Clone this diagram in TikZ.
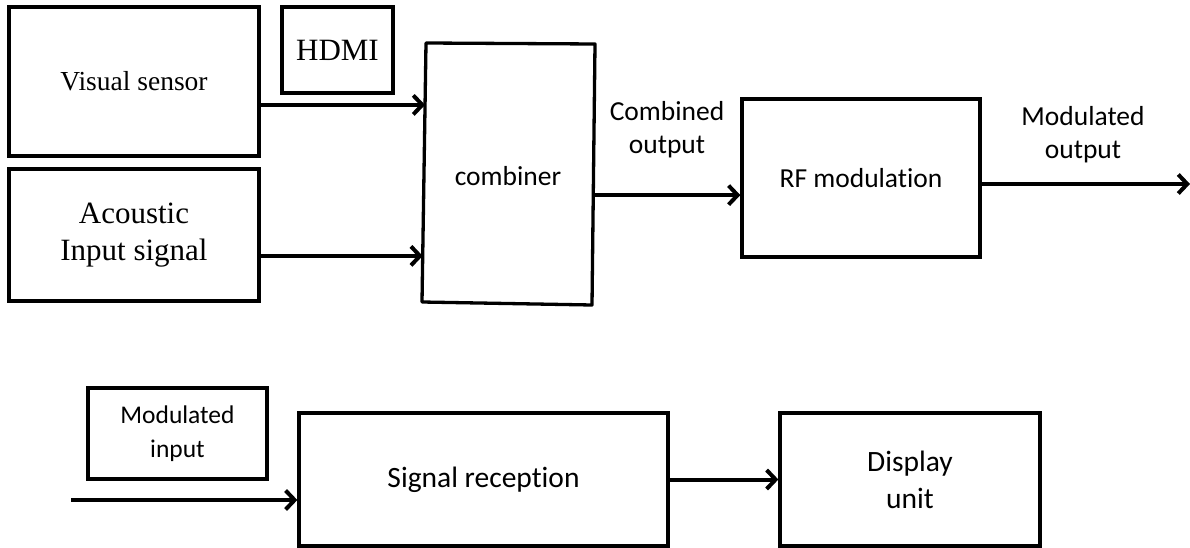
\documentclass[tikz,border=0pt]{standalone}
\usepackage{fontspec}
\setmainfont{Liberation Serif}
\newfontfamily\calfont[Ligatures=NoCommon]{Carlito}
\usetikzlibrary{arrows.meta,calc}
\begin{document}
\begin{tikzpicture}[x=1pt,y=-1pt,
  blk/.style={draw,line width=3.3pt,rectangle,inner sep=0pt,align=center},
  arr/.style={line width=4pt,-{Straight Barb[length=9pt,width=19pt,line width=4pt]}},
  tms/.style={font=\fontsize{27.5}{33}\selectfont},
  tmsb/.style={font=\fontsize{31}{37}\selectfont},
  cal/.style={font=\calfont\fontsize{27.5}{33}\selectfont},
  calb/.style={font=\calfont\fontsize{29.5}{37}\selectfont},
  lbl/.style={align=center,inner sep=0pt}]
\useasboundingbox (0,0) rectangle (1190,548);
% top row
\node[blk,tms,minimum width=250pt,minimum height=149pt] (vs) at (134,81.5) {Visual sensor};
\node[blk,tmsb,minimum width=250pt,minimum height=132pt] (ac) at (134,235) {Acoustic\\Input signal};
\node[blk,tmsb,minimum width=111pt,minimum height=86pt] (hd) at (337.5,50) {HDMI};
% combiner (slightly skewed quadrilateral)
\coordinate (c1) at (426,43);
\coordinate (c2) at (595,44);
\coordinate (c3) at (592,305);
\coordinate (c4) at (422,302);
\draw[line width=3.3pt,line join=round] (c1) -- (c2) -- (c3) -- (c4) -- cycle;
\node[lbl,cal] (cb) at (508,176) {combiner};
\coordinate (cbA) at ($(c1)!0.239!(c4)$);
\coordinate (cbB) at ($(c1)!0.822!(c4)$);
\coordinate (cbO) at ($(c2)!0.579!(c3)$);
\node[blk,cal,minimum width=238pt,minimum height=158pt] (rf) at (861,178) {RF modulation};
\node[lbl,cal] (colbl) at (667,130) {Combined\\output};
\node[lbl,cal] (molbl) at (1083,135) {Modulated\\output};
\coordinate (mout) at (1190,184);
\draw[arr] (vs.east |- cbA) -- (cbA);
\draw[arr] (ac.east |- cbB) -- (cbB);
\draw[arr] (cbO) -- (rf.west |- cbO);
\draw[arr] (rf.east |- mout) -- (mout);
% bottom row
\node[blk,font=\calfont\fontsize{25.5}{34}\selectfont,minimum width=179pt,minimum height=91pt] (mi) at (177.5,433.5) {Modulated\\input};
\node[blk,calb,minimum width=369pt,minimum height=133pt] (sr) at (483.5,479.5) {Signal reception};
\node[blk,calb,minimum width=260pt,minimum height=133pt] (du) at (910,479.5) {Display\\unit};
\coordinate (min) at (71,500);
\draw[arr] (min) -- (min -| sr.west);
\draw[arr] (sr.east) -- (du.west);
\end{tikzpicture}
\end{document}
